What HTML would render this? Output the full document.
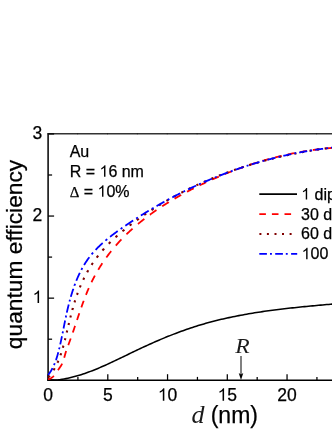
<!DOCTYPE html>
<html><head><meta charset="utf-8"><style>
html,body{margin:0;padding:0;background:#fff;}
body{width:332px;height:430px;overflow:hidden;position:relative;font-family:"Liberation Sans",sans-serif;}
svg{position:absolute;left:0;top:0;will-change:transform;}
text{font-family:"Liberation Sans",sans-serif;fill:#000;stroke:#000;stroke-width:0.25px;}
.it{font-family:"Liberation Serif",serif;font-style:italic;stroke:none;}
</style></head><body>
<svg width="332" height="430" viewBox="0 0 332 430">
<rect width="332" height="430" fill="#fff"/>
<g stroke="#000" fill="none">
<line x1="48.1" y1="133.2" x2="48.1" y2="381" stroke-width="1.5"/>
<line x1="47.35" y1="380.3" x2="332" y2="380.3" stroke-width="1.45"/>
<line x1="47.35" y1="133.8" x2="332" y2="133.8" stroke-width="1.4" stroke="#333"/>
</g>
<g stroke="#000" stroke-width="1.25">
<line x1="48.05" y1="380.3" x2="48.05" y2="374.20"/>
<line x1="77.92" y1="380.3" x2="77.92" y2="376.90"/>
<line x1="107.80" y1="380.3" x2="107.80" y2="374.20"/>
<line x1="137.68" y1="380.3" x2="137.68" y2="376.90"/>
<line x1="167.55" y1="380.3" x2="167.55" y2="374.20"/>
<line x1="197.43" y1="380.3" x2="197.43" y2="376.90"/>
<line x1="227.30" y1="380.3" x2="227.30" y2="374.20"/>
<line x1="257.18" y1="380.3" x2="257.18" y2="376.90"/>
<line x1="287.05" y1="380.3" x2="287.05" y2="374.20"/>
<line x1="316.93" y1="380.3" x2="316.93" y2="376.90"/>
<line x1="77.62" y1="133.2" x2="77.62" y2="134.5" stroke-width="1" stroke-opacity="0.4"/>
<line x1="107.50" y1="133.2" x2="107.50" y2="134.5" stroke-width="1" stroke-opacity="0.4"/>
<line x1="137.38" y1="133.2" x2="137.38" y2="134.5" stroke-width="1" stroke-opacity="0.4"/>
<line x1="167.25" y1="133.2" x2="167.25" y2="134.5" stroke-width="1" stroke-opacity="0.4"/>
<line x1="197.12" y1="133.2" x2="197.12" y2="134.5" stroke-width="1" stroke-opacity="0.4"/>
<line x1="227.00" y1="133.2" x2="227.00" y2="134.5" stroke-width="1" stroke-opacity="0.4"/>
<line x1="256.88" y1="133.2" x2="256.88" y2="134.5" stroke-width="1" stroke-opacity="0.4"/>
<line x1="286.75" y1="133.2" x2="286.75" y2="134.5" stroke-width="1" stroke-opacity="0.4"/>
<line x1="316.62" y1="133.2" x2="316.62" y2="134.5" stroke-width="1" stroke-opacity="0.4"/>
<line x1="48.1" y1="380.25" x2="54.10" y2="380.25"/>
<line x1="48.1" y1="339.20" x2="52.10" y2="339.20"/>
<line x1="48.1" y1="298.15" x2="54.10" y2="298.15"/>
<line x1="48.1" y1="257.10" x2="52.10" y2="257.10"/>
<line x1="48.1" y1="216.05" x2="54.10" y2="216.05"/>
<line x1="48.1" y1="175.00" x2="52.10" y2="175.00"/>
<line x1="48.1" y1="133.95" x2="54.10" y2="133.95"/>
</g>
<g fill="none" stroke-linecap="butt" stroke-linejoin="round">
<path d="M48.79,380.00 L50.72,380.00 L52.65,380.00 L54.57,380.00 L56.49,380.00 L58.40,379.85 L60.32,379.60 L62.22,379.30 L64.13,378.98 L66.03,378.62 L67.92,378.23 L69.82,377.81 L71.71,377.35 L73.60,376.87 L75.48,376.36 L77.37,375.83 L79.25,375.26 L81.12,374.68 L83.00,374.06 L84.87,373.43 L86.74,372.77 L88.61,372.09 L90.48,371.39 L92.34,370.67 L94.20,369.94 L96.06,369.18 L97.92,368.41 L99.78,367.63 L101.63,366.83 L103.48,366.01 L105.34,365.19 L107.19,364.35 L109.04,363.50 L110.89,362.65 L112.73,361.78 L114.58,360.91 L116.43,360.03 L118.27,359.15 L120.11,358.26 L121.96,357.37 L123.80,356.48 L125.64,355.58 L127.49,354.69 L129.33,353.79 L131.17,352.90 L133.01,352.01 L134.86,351.12 L136.70,350.24 L138.54,349.37 L140.39,348.50 L142.23,347.63 L144.07,346.78 L145.92,345.93 L147.76,345.09 L149.61,344.25 L151.46,343.42 L153.30,342.60 L155.15,341.79 L157.00,340.99 L158.86,340.19 L160.71,339.41 L162.56,338.63 L164.42,337.86 L166.28,337.09 L168.14,336.34 L170.00,335.60 L171.86,334.86 L173.73,334.14 L175.59,333.42 L177.46,332.71 L179.33,332.02 L181.21,331.33 L183.08,330.65 L184.96,329.99 L186.85,329.33 L188.73,328.68 L190.62,328.05 L192.51,327.42 L194.40,326.81 L196.30,326.21 L198.20,325.61 L200.10,325.03 L202.00,324.46 L203.91,323.91 L205.83,323.36 L207.74,322.83 L209.66,322.30 L211.58,321.79 L213.51,321.28 L215.44,320.79 L217.37,320.31 L219.30,319.84 L221.24,319.37 L223.18,318.92 L225.12,318.48 L227.07,318.04 L229.02,317.62 L230.97,317.20 L232.92,316.79 L234.88,316.40 L236.83,316.01 L238.79,315.62 L240.76,315.25 L242.72,314.89 L244.69,314.53 L246.66,314.18 L248.63,313.84 L250.61,313.50 L252.58,313.17 L254.56,312.85 L256.54,312.54 L258.52,312.23 L260.51,311.93 L262.49,311.64 L264.48,311.35 L266.47,311.07 L268.46,310.79 L270.45,310.52 L272.44,310.26 L274.44,310.00 L276.44,309.74 L278.43,309.49 L280.43,309.25 L282.43,309.01 L284.44,308.77 L286.44,308.54 L288.44,308.32 L290.45,308.09 L292.45,307.88 L294.46,307.66 L296.47,307.45 L298.48,307.24 L300.49,307.04 L302.50,306.83 L304.51,306.64 L306.52,306.44 L308.53,306.24 L310.55,306.05 L312.56,305.86 L314.57,305.68 L316.59,305.49 L318.60,305.31 L320.62,305.13 L322.63,304.94 L324.65,304.76 L326.66,304.59 L328.68,304.41 L330.69,304.23 L332.71,304.05 L334.72,303.88" stroke="#000" stroke-width="1.55"/>
<path d="M48.00,379.20 L48.72,379.03 L49.41,378.82 L50.06,378.57 L50.68,378.28 L51.26,377.97 L51.82,377.62 L52.35,377.25 L52.85,376.85 L53.34,376.42 L53.80,375.97 L53.91,375.85 M58.02,370.19 L58.06,370.12 L58.43,369.55 L58.80,368.99 L59.17,368.43 L59.55,367.87 L59.93,367.32 L60.31,366.76 L60.67,366.20 L61.03,365.64 L61.38,365.07 L61.71,364.50 L62.02,363.92 L62.17,363.62 M64.23,357.73 L64.40,357.10 L64.57,356.45 L64.75,355.80 L64.93,355.16 L65.11,354.51 L65.29,353.86 L65.48,353.21 L65.67,352.56 L65.86,351.92 L66.06,351.28 L66.14,351.04 M68.26,345.14 L68.28,345.08 L68.51,344.47 L68.74,343.86 L68.97,343.25 L69.20,342.64 L69.43,342.02 L69.66,341.41 L69.88,340.80 L70.11,340.18 L70.33,339.56 L70.55,338.94 L70.73,338.45 M72.80,332.56 L72.96,332.10 L73.17,331.48 L73.39,330.85 L73.60,330.23 L73.82,329.60 L74.03,328.97 L74.24,328.34 L74.45,327.72 L74.66,327.09 L74.88,326.46 L75.08,325.86 M77.05,319.97 L77.20,319.54 L77.41,318.91 L77.62,318.28 L77.83,317.65 L78.04,317.02 L78.25,316.39 L78.46,315.76 L78.67,315.13 L78.89,314.51 L79.10,313.88 L79.30,313.27 M81.33,307.38 L81.47,306.99 L81.69,306.37 L81.91,305.74 L82.13,305.12 L82.35,304.50 L82.58,303.88 L82.80,303.26 L83.02,302.64 L83.25,302.02 L83.48,301.40 L83.71,300.78 L83.74,300.69 M86.00,294.80 L86.07,294.62 L86.31,294.01 L86.56,293.40 L86.81,292.79 L87.06,292.18 L87.31,291.57 L87.56,290.97 L87.82,290.36 L88.08,289.75 L88.34,289.15 L88.60,288.55 L88.79,288.12 M91.49,282.24 L91.63,281.96 L91.92,281.36 L92.21,280.77 L92.51,280.18 L92.80,279.59 L93.10,279.00 L93.41,278.41 L93.71,277.83 L94.02,277.24 L94.33,276.66 L94.64,276.07 L94.91,275.59 M98.24,269.76 L98.25,269.74 L98.60,269.17 L98.94,268.60 L99.29,268.03 L99.64,267.47 L99.99,266.90 L100.34,266.34 L100.70,265.78 L101.06,265.22 L101.42,264.66 L101.78,264.11 L102.15,263.55 L102.39,263.18 M106.37,257.46 L106.70,257.01 L107.09,256.47 L107.49,255.94 L107.89,255.40 L108.28,254.87 L108.69,254.34 L109.09,253.82 L109.49,253.29 L109.90,252.77 L110.31,252.24 L110.72,251.72 L111.13,251.20 L111.25,251.06 M115.85,245.55 L116.23,245.11 L116.67,244.62 L117.10,244.12 L117.54,243.63 L117.99,243.14 L118.43,242.65 L118.87,242.16 L119.32,241.68 L119.77,241.19 L120.22,240.71 L120.67,240.23 L121.12,239.75 L121.39,239.48 M126.50,234.32 L126.69,234.13 L127.17,233.68 L127.64,233.22 L128.12,232.77 L128.60,232.31 L129.08,231.86 L129.56,231.41 L130.04,230.96 L130.53,230.52 L131.02,230.07 L131.50,229.63 L131.99,229.19 L132.48,228.75 L132.52,228.71 M137.98,224.00 L138.48,223.58 L138.99,223.16 L139.50,222.75 L140.01,222.33 L140.52,221.91 L141.04,221.50 L141.55,221.08 L142.07,220.67 L142.59,220.26 L143.11,219.85 L143.63,219.45 L144.15,219.04 L144.30,218.92 M149.95,214.67 L149.96,214.67 L150.50,214.28 L151.03,213.89 L151.57,213.51 L152.11,213.12 L152.65,212.74 L153.19,212.35 L153.73,211.97 L154.27,211.59 L154.82,211.21 L155.36,210.84 L155.91,210.46 L156.44,210.10 M162.20,206.27 L162.54,206.05 L163.10,205.70 L163.65,205.34 L164.21,204.98 L164.78,204.63 L165.34,204.27 L165.90,203.92 L166.46,203.57 L167.03,203.22 L167.59,202.87 L168.16,202.52 L168.73,202.17 L168.77,202.14 M174.59,198.68 L175.01,198.43 L175.59,198.10 L176.17,197.77 L176.74,197.44 L177.32,197.11 L177.90,196.78 L178.48,196.45 L179.06,196.12 L179.64,195.80 L180.22,195.48 L180.80,195.15 L181.21,194.93 M187.06,191.76 L187.24,191.67 L187.83,191.36 L188.42,191.05 L189.01,190.74 L189.60,190.43 L190.19,190.13 L190.78,189.82 L191.37,189.52 L191.96,189.21 L192.55,188.91 L193.14,188.61 L193.71,188.32 M199.57,185.41 L199.68,185.35 L200.28,185.06 L200.88,184.77 L201.48,184.48 L202.07,184.20 L202.67,183.91 L203.27,183.62 L203.87,183.34 L204.47,183.06 L205.07,182.77 L205.67,182.49 L206.24,182.22 M212.12,179.53 L212.29,179.46 L212.89,179.19 L213.50,178.92 L214.10,178.65 L214.71,178.38 L215.31,178.12 L215.92,177.85 L216.53,177.59 L217.13,177.32 L217.74,177.06 L218.35,176.80 L218.80,176.61 M224.68,174.14 L225.05,173.99 L225.66,173.74 L226.27,173.50 L226.89,173.25 L227.50,173.00 L228.11,172.76 L228.73,172.51 L229.34,172.27 L229.95,172.03 L230.57,171.79 L231.18,171.55 L231.37,171.48 M237.26,169.24 L237.35,169.21 L237.97,168.98 L238.59,168.75 L239.21,168.52 L239.82,168.30 L240.44,168.08 L241.07,167.85 L241.69,167.63 L242.31,167.41 L242.93,167.19 L243.55,166.97 L243.95,166.83 M249.85,164.82 L250.41,164.63 L251.04,164.43 L251.67,164.22 L252.29,164.02 L252.92,163.82 L253.55,163.62 L254.18,163.42 L254.80,163.22 L255.43,163.02 L256.06,162.82 L256.54,162.67 M262.44,160.89 L263.00,160.73 L263.64,160.54 L264.27,160.36 L264.90,160.18 L265.54,160.00 L266.17,159.82 L266.81,159.64 L267.44,159.46 L268.08,159.29 L268.72,159.11 L269.14,159.00 M275.03,157.45 L275.10,157.43 L275.74,157.27 L276.38,157.11 L277.02,156.95 L277.66,156.79 L278.30,156.63 L278.94,156.48 L279.59,156.32 L280.23,156.17 L280.87,156.02 L281.51,155.87 L281.73,155.81 M287.63,154.49 L287.97,154.42 L288.62,154.28 L289.26,154.14 L289.91,154.01 L290.56,153.87 L291.21,153.74 L291.86,153.60 L292.51,153.47 L293.16,153.34 L293.81,153.22 L294.33,153.11 M300.23,152.01 L300.33,152.00 L300.99,151.88 L301.64,151.77 L302.30,151.65 L302.95,151.54 L303.61,151.43 L304.26,151.32 L304.92,151.21 L305.58,151.11 L306.23,151.00 L306.89,150.90 L306.93,150.89 M312.83,150.02 L313.49,149.93 L314.15,149.84 L314.81,149.75 L315.47,149.66 L316.14,149.57 L316.80,149.49 L317.46,149.41 L318.13,149.32 L318.79,149.24 L319.46,149.16 L319.53,149.15 M325.43,148.50 L325.45,148.50 L326.12,148.43 L326.79,148.37 L327.46,148.30 L328.13,148.24 L328.80,148.18 L329.47,148.12 L330.14,148.06 L330.81,148.00 L331.48,147.94 L332.13,147.89" stroke="#ff0000" stroke-width="1.8"/>
<path d="M48.27,377.51 L48.56,377.17 L48.99,376.65 L49.42,376.13 L49.81,375.63 M53.54,370.25 L53.61,370.13 L53.95,369.56 L54.28,369.00 L54.61,368.43 L54.70,368.27 M57.48,362.76 L57.56,362.59 L57.82,361.99 L58.09,361.39 L58.34,360.79 L58.35,360.77 M60.48,355.23 L60.67,354.66 L60.89,354.04 L61.10,353.41 L61.16,353.23 M62.87,347.68 L63.04,347.09 L63.22,346.45 L63.39,345.81 L63.43,345.68 M64.88,340.13 L64.92,340.00 L65.08,339.35 L65.24,338.70 L65.38,338.13 M66.71,332.58 L66.81,332.17 L66.97,331.51 L67.12,330.86 L67.19,330.58 M68.51,325.03 L68.53,324.95 L68.68,324.29 L68.84,323.64 L68.99,323.04 M70.35,317.49 L70.45,317.08 L70.62,316.42 L70.79,315.77 L70.86,315.49 M72.33,309.94 L72.34,309.90 L72.52,309.25 L72.70,308.60 L72.88,307.95 L72.88,307.94 M74.52,302.39 L74.59,302.15 L74.79,301.51 L74.99,300.87 L75.14,300.39 M77.00,294.85 L77.12,294.53 L77.34,293.90 L77.57,293.27 L77.73,292.85 M79.89,287.31 L79.99,287.07 L80.25,286.46 L80.50,285.85 L80.73,285.31 M83.24,279.79 L83.52,279.22 L83.81,278.62 L84.10,278.03 L84.22,277.80 M87.12,272.29 L87.17,272.20 L87.49,271.62 L87.82,271.05 L88.15,270.48 L88.24,270.31 M91.58,264.86 L91.93,264.32 L92.29,263.77 L92.66,263.23 L92.87,262.90 M96.70,257.54 L96.85,257.34 L97.24,256.82 L97.64,256.30 L98.05,255.78 L98.17,255.63 M102.48,250.44 L102.67,250.22 L103.11,249.72 L103.55,249.23 L103.99,248.74 L104.10,248.61 M108.80,243.67 L109.00,243.47 L109.47,243.00 L109.94,242.53 L110.41,242.07 L110.55,241.93 M115.52,237.26 L115.74,237.07 L116.23,236.62 L116.73,236.18 L117.23,235.74 L117.35,235.63 M122.50,231.23 L122.81,230.97 L123.33,230.55 L123.85,230.13 L124.37,229.70 L124.38,229.69 M129.64,225.54 L130.14,225.15 L130.67,224.75 L131.20,224.34 L131.55,224.08 M136.88,220.12 L137.10,219.96 L137.64,219.57 L138.18,219.18 L138.73,218.79 L138.81,218.73 M144.19,214.96 L144.73,214.58 L145.28,214.21 L145.84,213.83 L146.13,213.63 M151.55,210.04 L151.94,209.79 L152.50,209.43 L153.06,209.07 L153.51,208.78 M158.96,205.37 L159.26,205.18 L159.83,204.83 L160.40,204.49 L160.92,204.17 M166.40,200.92 L166.68,200.75 L167.26,200.42 L167.84,200.09 L168.37,199.78 M173.86,196.71 L174.21,196.51 L174.79,196.19 L175.38,195.88 L175.84,195.62 M181.35,192.70 L181.83,192.45 L182.42,192.15 L183.01,191.84 L183.33,191.68 M188.85,188.91 L188.95,188.86 L189.55,188.57 L190.14,188.28 L190.74,187.99 L190.84,187.94 M196.36,185.32 L196.74,185.14 L197.35,184.87 L197.95,184.59 L198.35,184.40 M203.88,181.92 L204.01,181.87 L204.62,181.60 L205.23,181.33 L205.84,181.07 L205.88,181.05 M211.41,178.71 L211.96,178.48 L212.57,178.23 L213.19,177.97 L213.41,177.89 M218.95,175.67 L219.36,175.51 L219.98,175.27 L220.60,175.02 L220.94,174.89 M226.48,172.80 L226.82,172.68 L227.44,172.45 L228.07,172.22 L228.48,172.07 M234.02,170.09 L234.33,169.99 L234.96,169.77 L235.59,169.55 L236.02,169.40 M241.57,167.55 L241.90,167.44 L242.53,167.23 L243.16,167.03 L243.57,166.90 M249.11,165.15 L249.51,165.03 L250.14,164.83 L250.78,164.64 L251.11,164.54 M256.66,162.90 L257.16,162.75 L257.80,162.57 L258.44,162.39 L258.66,162.33 M264.21,160.79 L264.21,160.79 L264.86,160.61 L265.50,160.44 L266.14,160.27 L266.21,160.25 M271.75,158.82 L271.94,158.77 L272.58,158.61 L273.23,158.45 L273.75,158.32 M279.30,156.98 L279.70,156.89 L280.35,156.73 L280.99,156.58 L281.30,156.51 M286.85,155.27 L287.48,155.13 L288.13,154.99 L288.78,154.85 L288.85,154.84 M294.40,153.68 L294.64,153.63 L295.29,153.50 L295.95,153.37 L296.40,153.28 M301.95,152.22 L302.47,152.12 L303.13,152.00 L303.78,151.88 L303.95,151.85 M309.50,150.88 L309.67,150.85 L310.32,150.74 L310.97,150.63 L311.50,150.54 M317.05,149.65 L317.52,149.58 L318.18,149.48 L318.84,149.38 L319.05,149.34 M324.60,148.54 L324.74,148.52 L325.39,148.43 L326.05,148.34 L326.60,148.26 M332.15,147.54 L332.61,147.48 L333.27,147.40 L333.92,147.32" stroke="#800000" stroke-width="2.1"/>
<path d="M48.09,375.04 L48.50,374.51 L48.90,373.98 L49.29,373.45 L49.67,372.91 L50.04,372.36 L50.40,371.80 L50.76,371.25 L51.10,370.68 L51.44,370.11 L51.77,369.54 L52.09,368.96 L52.40,368.37 L52.52,368.13 M53.96,365.15 L54.12,364.77 L54.38,364.16 L54.64,363.54 L54.76,363.25 M55.89,360.26 L56.06,359.78 L56.27,359.14 L56.48,358.50 L56.69,357.86 L56.89,357.22 L57.09,356.58 L57.29,355.93 L57.48,355.28 L57.66,354.63 L57.84,353.99 L58.02,353.34 L58.20,352.68 L58.31,352.26 M59.07,349.26 L59.19,348.78 L59.35,348.12 L59.51,347.47 L59.53,347.36 M60.23,344.36 L60.26,344.23 L60.41,343.58 L60.55,342.93 L60.69,342.29 L60.83,341.64 L60.97,340.99 L61.11,340.34 L61.25,339.70 L61.39,339.05 L61.52,338.40 L61.66,337.76 L61.79,337.11 L61.92,336.47 L61.95,336.36 M62.55,333.36 L62.58,333.24 L62.71,332.59 L62.84,331.95 L62.93,331.46 M63.53,328.46 L63.61,328.07 L63.73,327.42 L63.86,326.77 L63.99,326.13 L64.12,325.48 L64.25,324.83 L64.38,324.18 L64.51,323.53 L64.64,322.89 L64.77,322.24 L64.90,321.59 L65.03,320.94 L65.13,320.46 M65.75,317.46 L65.84,317.02 L65.98,316.37 L66.12,315.71 L66.16,315.56 M66.81,312.57 L66.84,312.43 L66.99,311.78 L67.14,311.12 L67.29,310.46 L67.45,309.80 L67.60,309.14 L67.76,308.48 L67.91,307.82 L68.07,307.17 L68.23,306.51 L68.40,305.85 L68.56,305.19 L68.72,304.57 M69.49,301.57 L69.58,301.24 L69.76,300.58 L69.94,299.92 L70.01,299.67 M70.86,296.67 L70.86,296.65 L71.05,295.99 L71.25,295.34 L71.44,294.69 L71.64,294.04 L71.84,293.39 L72.04,292.74 L72.25,292.09 L72.46,291.44 L72.67,290.79 L72.88,290.15 L73.09,289.50 L73.31,288.86 L73.37,288.67 M74.43,285.68 L74.43,285.66 L74.66,285.02 L74.90,284.39 L75.13,283.78 M76.30,280.79 L76.37,280.61 L76.62,279.99 L76.88,279.37 L77.14,278.75 L77.41,278.13 L77.67,277.52 L77.94,276.90 L78.22,276.29 L78.49,275.68 L78.77,275.07 L79.05,274.47 L79.34,273.86 L79.63,273.26 L79.85,272.81 M81.36,269.83 L81.43,269.70 L81.74,269.12 L82.06,268.53 L82.38,267.95 L82.38,267.95 M84.10,264.99 L84.37,264.53 L84.72,263.97 L85.06,263.41 L85.42,262.86 L85.77,262.31 L86.13,261.76 L86.50,261.22 L86.87,260.67 L87.24,260.13 L87.61,259.60 L87.99,259.07 L88.38,258.54 L88.76,258.01 L89.16,257.49 L89.37,257.21 M91.63,254.37 L92.01,253.92 L92.43,253.42 L92.85,252.93 L93.13,252.61 M95.60,249.88 L95.92,249.54 L96.37,249.07 L96.83,248.60 L97.29,248.13 L97.75,247.67 L98.21,247.21 L98.68,246.75 L99.15,246.29 L99.62,245.84 L100.10,245.38 L100.57,244.93 L101.05,244.49 L101.54,244.04 L102.02,243.60 L102.51,243.16 L102.66,243.03 M105.42,240.62 L105.49,240.56 L106.00,240.13 L106.50,239.71 L107.01,239.29 L107.20,239.13 M110.02,236.85 L110.11,236.79 L110.63,236.38 L111.15,235.97 L111.68,235.57 L112.20,235.16 L112.73,234.76 L113.26,234.36 L113.79,233.96 L114.33,233.56 L114.86,233.16 L115.40,232.76 L115.94,232.37 L116.47,231.97 L117.01,231.58 L117.55,231.19 L117.69,231.10 M120.59,229.03 L120.82,228.87 L121.37,228.48 L121.92,228.10 L122.43,227.74 M125.34,225.74 L125.77,225.45 L126.32,225.07 L126.88,224.70 L127.43,224.32 L127.98,223.95 L128.54,223.57 L129.09,223.20 L129.65,222.83 L130.20,222.46 L130.76,222.09 L131.32,221.72 L131.88,221.35 L132.43,220.98 L132.99,220.62 L133.15,220.52 M136.08,218.61 L136.35,218.43 L136.92,218.07 L137.48,217.71 L137.94,217.41 M140.88,215.55 L141.43,215.21 L141.99,214.85 L142.56,214.50 L143.13,214.15 L143.69,213.79 L144.26,213.44 L144.83,213.09 L145.40,212.74 L145.97,212.39 L146.54,212.05 L147.11,211.70 L147.68,211.35 L148.25,211.01 L148.75,210.70 M151.70,208.94 L152.26,208.61 L152.83,208.27 L153.41,207.93 L153.58,207.83 M156.54,206.10 L156.87,205.91 L157.45,205.58 L158.03,205.25 L158.61,204.92 L159.19,204.59 L159.77,204.26 L160.35,203.93 L160.93,203.60 L161.51,203.27 L162.09,202.95 L162.67,202.62 L163.25,202.29 L163.84,201.97 L164.42,201.65 L164.45,201.63 M167.42,200.00 L167.93,199.73 L168.52,199.41 L169.10,199.09 L169.30,198.98 M172.28,197.40 L172.63,197.21 L173.22,196.90 L173.81,196.59 L174.40,196.28 L175.00,195.97 L175.59,195.66 L176.18,195.36 L176.77,195.05 L177.36,194.74 L177.96,194.44 L178.55,194.14 L179.14,193.83 L179.74,193.53 L180.22,193.29 M183.20,191.80 L183.31,191.74 L183.91,191.44 L184.51,191.15 L185.09,190.86 M188.08,189.41 L188.10,189.40 L188.70,189.11 L189.30,188.82 L189.90,188.53 L190.50,188.25 L191.11,187.96 L191.71,187.68 L192.31,187.39 L192.91,187.11 L193.52,186.83 L194.12,186.55 L194.73,186.27 L195.33,185.99 L195.93,185.71 L196.04,185.66 M199.03,184.30 L199.57,184.06 L200.18,183.78 L200.79,183.51 L200.92,183.45 M203.91,182.13 L204.44,181.90 L205.05,181.64 L205.66,181.37 L206.28,181.11 L206.89,180.84 L207.50,180.58 L208.11,180.32 L208.72,180.06 L209.34,179.80 L209.95,179.54 L210.57,179.29 L211.18,179.03 L211.79,178.77 L211.89,178.74 M214.88,177.51 L215.49,177.26 L216.11,177.01 L216.72,176.76 L216.78,176.74 M219.77,175.55 L219.82,175.53 L220.43,175.29 L221.05,175.05 L221.67,174.81 L222.30,174.57 L222.92,174.33 L223.54,174.09 L224.16,173.85 L224.78,173.61 L225.40,173.38 L226.03,173.14 L226.65,172.91 L227.27,172.67 L227.76,172.49 M230.75,171.39 L231.02,171.30 L231.64,171.07 L232.27,170.84 L232.65,170.71 M235.65,169.64 L236.03,169.51 L236.66,169.29 L237.29,169.07 L237.92,168.85 L238.55,168.64 L239.18,168.42 L239.81,168.21 L240.44,167.99 L241.07,167.78 L241.70,167.57 L242.33,167.36 L242.96,167.15 L243.59,166.94 L243.64,166.92 M246.64,165.94 L246.75,165.91 L247.39,165.70 L248.02,165.50 L248.54,165.34 M251.54,164.40 L251.83,164.31 L252.47,164.11 L253.10,163.92 L253.74,163.72 L254.38,163.53 L255.01,163.34 L255.65,163.15 L256.29,162.96 L256.93,162.77 L257.57,162.58 L258.20,162.39 L258.84,162.21 L259.48,162.02 L259.53,162.01 M262.53,161.15 L262.68,161.11 L263.32,160.93 L263.97,160.75 L264.43,160.62 M267.43,159.81 L267.82,159.70 L268.46,159.53 L269.11,159.36 L269.75,159.19 L270.39,159.02 L271.04,158.85 L271.68,158.69 L272.33,158.52 L272.97,158.36 L273.62,158.19 L274.26,158.03 L274.91,157.87 L275.43,157.74 M278.43,157.00 L278.79,156.92 L279.44,156.76 L280.09,156.61 L280.33,156.55 M283.33,155.85 L283.33,155.85 L283.98,155.70 L284.63,155.56 L285.28,155.41 L285.93,155.27 L286.58,155.12 L287.23,154.98 L287.88,154.84 L288.54,154.70 L289.19,154.56 L289.84,154.42 L290.49,154.28 L291.14,154.14 L291.33,154.11 M294.33,153.49 L294.41,153.47 L295.06,153.34 L295.72,153.21 L296.22,153.11 M299.22,152.53 L299.65,152.45 L300.30,152.33 L300.96,152.21 L301.62,152.09 L302.27,151.97 L302.93,151.85 L303.59,151.73 L304.24,151.62 L304.90,151.50 L305.56,151.39 L306.22,151.27 L306.87,151.16 L307.22,151.10 M310.22,150.60 L310.83,150.51 L311.49,150.40 L312.12,150.30 M315.12,149.84 L315.45,149.79 L316.11,149.69 L316.77,149.60 L317.43,149.50 L318.10,149.41 L318.76,149.31 L319.42,149.22 L320.08,149.13 L320.75,149.04 L321.41,148.95 L322.07,148.86 L322.73,148.77 L323.12,148.72 M326.12,148.34 L326.72,148.27 L327.38,148.19 L328.02,148.11 M331.02,147.77 L331.38,147.73 L332.04,147.66 L332.71,147.59 L333.37,147.52 L334.04,147.45" stroke="#0000ff" stroke-width="1.8"/>
</g>
<text x="48.05" y="400.80" font-size="17.5px" text-anchor="middle">0</text>
<text x="107.80" y="400.80" font-size="17.5px" text-anchor="middle">5</text>
<path transform="translate(157.82,400.80) scale(0.01750,-0.01750)" d="M372.6,0 L284.7,0 L284.7,560 Q252.9,529.8 201.4,499.5 Q149.9,469.2 108.9,454.1 L108.9,539.1 Q182.6,573.7 237.8,623 Q293,672.4 315.9,718.8 L372.6,718.8 Z" fill="#000"/>
<text x="167.53" y="400.80" font-size="17.5px">0</text>
<path transform="translate(217.57,400.80) scale(0.01750,-0.01750)" d="M372.6,0 L284.7,0 L284.7,560 Q252.9,529.8 201.4,499.5 Q149.9,469.2 108.9,454.1 L108.9,539.1 Q182.6,573.7 237.8,623 Q293,672.4 315.9,718.8 L372.6,718.8 Z" fill="#000"/>
<text x="227.28" y="400.80" font-size="17.5px">5</text>
<text x="287.05" y="400.80" font-size="17.5px" text-anchor="middle">20</text>
<path transform="translate(32.57,303.05) scale(0.01750,-0.01750)" d="M372.6,0 L284.7,0 L284.7,560 Q252.9,529.8 201.4,499.5 Q149.9,469.2 108.9,454.1 L108.9,539.1 Q182.6,573.7 237.8,623 Q293,672.4 315.9,718.8 L372.6,718.8 Z" fill="#000"/>
<text x="42.30" y="220.95" font-size="17.5px" text-anchor="end">2</text>
<text x="42.30" y="138.85" font-size="17.5px" text-anchor="end">3</text>
<text x="69.70" y="156.90" font-size="16px" text-anchor="start">Au</text>
<text x="69.70" y="176.80" font-size="16px">R =</text>
<path transform="translate(99.48,176.80) scale(0.01600,-0.01600)" d="M372.6,0 L284.7,0 L284.7,560 Q252.9,529.8 201.4,499.5 Q149.9,469.2 108.9,454.1 L108.9,539.1 Q182.6,573.7 237.8,623 Q293,672.4 315.9,718.8 L372.6,718.8 Z" fill="#000"/>
<text x="108.39" y="176.80" font-size="16px">6 nm</text>
<text x="83.70" y="196.80" font-size="16px">=</text>
<path transform="translate(97.48,196.80) scale(0.01600,-0.01600)" d="M372.6,0 L284.7,0 L284.7,560 Q252.9,529.8 201.4,499.5 Q149.9,469.2 108.9,454.1 L108.9,539.1 Q182.6,573.7 237.8,623 Q293,672.4 315.9,718.8 L372.6,718.8 Z" fill="#000"/>
<text x="106.39" y="196.80" font-size="16px">0%</text>
<path transform="translate(301.20,199.60) scale(0.01600,-0.01600)" d="M372.6,0 L284.7,0 L284.7,560 Q252.9,529.8 201.4,499.5 Q149.9,469.2 108.9,454.1 L108.9,539.1 Q182.6,573.7 237.8,623 Q293,672.4 315.9,718.8 L372.6,718.8 Z" fill="#000"/>
<text x="314.54" y="199.60" font-size="16px">dipole</text>
<text x="301.00" y="219.60" font-size="16px" text-anchor="start">30 dipoles</text>
<text x="301.00" y="239.40" font-size="16px" text-anchor="start">60 dipoles</text>
<path transform="translate(301.60,259.30) scale(0.01600,-0.01600)" d="M372.6,0 L284.7,0 L284.7,560 Q252.9,529.8 201.4,499.5 Q149.9,469.2 108.9,454.1 L108.9,539.1 Q182.6,573.7 237.8,623 Q293,672.4 315.9,718.8 L372.6,718.8 Z" fill="#000"/>
<text x="310.49" y="259.30" font-size="16px">00 dipoles</text>
<text transform="translate(22.3,349.2) rotate(-90) scale(1.05,1)" font-size="21.7px">quantum efficiency</text>
<text x="191.6" y="423.4" font-size="26px" class="it" style="fill:#1a1a1a">d</text>
<text x="210.7" y="423.4" font-size="23px">(nm)</text>
<text transform="translate(235.3,352.6) scale(1.15,1)" font-size="20.5px" class="it" style="fill:#1a1a1a">R</text>
<line x1="241" y1="356.1" x2="241" y2="375" stroke="#6a6a6a" stroke-width="1.7"/>
<path d="M241,380 L238.7,372.9 L241,374.6 L243.3,372.9 Z" fill="#000"/>
<text x="69.7" y="196.8" font-size="15px" style="font-family:'Liberation Serif',serif">Δ</text>
<g fill="none" stroke-width="1.8">
<line x1="259.3" y1="194.2" x2="297" y2="194.2" stroke="#000" stroke-width="1.7"/>
<path d="M259.3,214.1 h6.6 M271.9,214.1 h6.6 M284.5,214.1 h6.6" stroke="#ff0000"/>
<path d="M259.4,234 h2 M266.9,234 h2 M274.5,234 h2 M282,234 h2 M289.6,234 h2" stroke="#800000" stroke-width="2"/>
<path d="M259.3,253.9 h7.6 M270,253.9 h1.9 M275.2,253.9 h7.7 M285.8,253.9 h1.9 M291.1,253.9 h6.1" stroke="#0000ff"/>
</g>
</svg>
</body></html>
